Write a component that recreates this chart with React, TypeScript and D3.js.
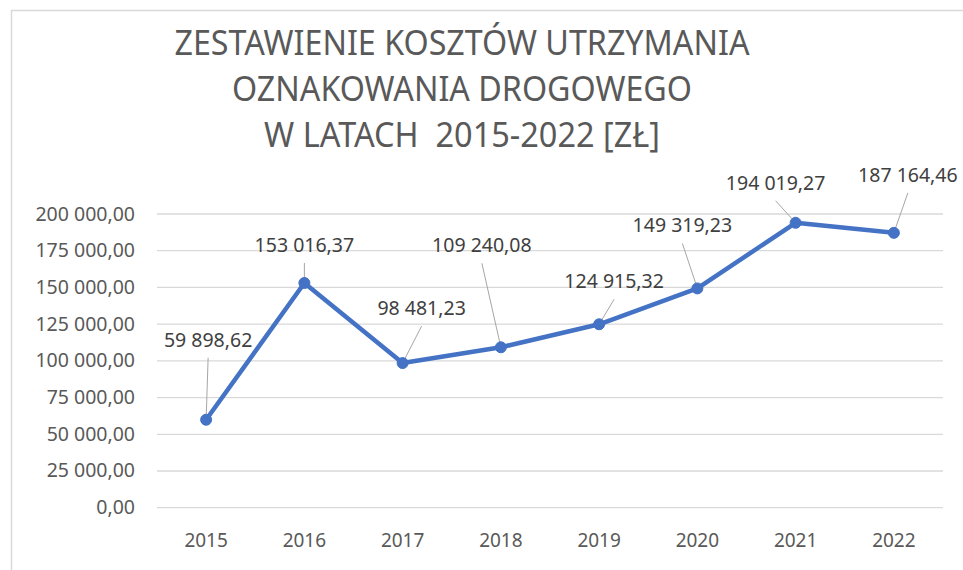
import React from "react";
import * as d3 from "d3";

const years = ["2015", "2016", "2017", "2018", "2019", "2020", "2021", "2022"];
const costs = [59898.62, 153016.37, 98481.23, 109240.08, 124915.32, 149319.23, 194019.27, 187164.46];
const yTicks = [0, 25000, 50000, 75000, 100000, 125000, 150000, 175000, 200000];
const titleLines = ["ZESTAWIENIE KOSZTÓW UTRZYMANIA", "OZNAKOWANIA DROGOWEGO", "W LATACH  2015-2022 [ZŁ]"];

// manual data-label placement (offset of label centre/baseline from the point)
const labelDx = [2, 0, 19, -19, 15, -15, -20, 14];
const labelDy = [-73, -31, -48, -95, -36, -56, -33, -51];

const fmt = (v: number) => {
  const s = v.toFixed(2);
  const [int, dec] = s.split(".");
  const grouped = int.replace(/\B(?=(\d{3})+(?!\d))/g, " ");
  return grouped + "," + dec;
};

export default function App() {
  const W = 963, H = 570;
  const left = 157, right = 943, top = 214, bottom = 507.7;
  const x = d3.scaleBand<string>().domain(years).range([left, right]);
  const y = d3.scaleLinear().domain([0, 200000]).range([bottom, top]);
  const font = "'Noto Sans', sans-serif";
  const line = d3.line<number>()
    .x((_, i) => (x(years[i]) as number) + x.bandwidth() / 2)
    .y((d) => y(d));
  const titleWidths = [575, 460, 396];
  return (
    <svg width={W} height={H} style={{ position: "absolute", left: 0, top: 0, background: "#fff" }}>
      <rect x={0} y={0} width={W} height={H} fill="#fff" />
      <line x1={11} y1={10.5} x2={W} y2={10.5} stroke="#d9d9d9" strokeWidth={1.5} />
      <line x1={11.5} y1={10} x2={11.5} y2={H} stroke="#d9d9d9" strokeWidth={1.5} />
      {titleLines.map((t, i) => (
        <text key={t} x={462} y={55 + i * 46} textAnchor="middle" fontFamily={font} fontWeight={400}
          fontSize={34} fill="#595959" textLength={titleWidths[i]} lengthAdjust="spacingAndGlyphs"
          style={{ whiteSpace: "pre" }}>{t}</text>
      ))}
      {yTicks.map((t) => (
        <g key={t}>
          <line x1={left} x2={right} y1={y(t)} y2={y(t)} stroke="#d9d9d9" strokeWidth={1.3} />
          <text x={135} y={y(t) + 6.5} textAnchor="end" fontFamily={font} fontSize={19.5} fill="#595959">{fmt(t)}</text>
        </g>
      ))}
      {years.map((yr) => (
        <text key={yr} x={(x(yr) as number) + x.bandwidth() / 2} y={547} textAnchor="middle"
          fontFamily={font} fontSize={19} fill="#595959">{yr}</text>
      ))}
      {costs.map((v, i) => {
        const px = (x(years[i]) as number) + x.bandwidth() / 2;
        const py = y(v);
        const lx = px + labelDx[i];
        const ly = py + labelDy[i];
        const sx = lx, sy = ly + 11;
        const ang = Math.atan2(py - sy, px - sx);
        return (
          <g key={i}>
            <line x1={sx} y1={sy} x2={px - Math.cos(ang) * 3} y2={py - Math.sin(ang) * 3} stroke="#a6a6a6" strokeWidth={1} />
            <text x={lx} y={ly} textAnchor="middle" fontFamily={font} fontSize={19.5} fill="#404040">{fmt(v)}</text>
          </g>
        );
      })}
      <path d={line(costs) || ""} fill="none" stroke="#4472c4" strokeWidth={4.5} strokeLinejoin="round" strokeLinecap="round" />
      {costs.map((v, i) => (
        <circle key={i} cx={(x(years[i]) as number) + x.bandwidth() / 2} cy={y(v)} r={5.5} fill="#4472c4" stroke="#4472c4" />
      ))}
    </svg>
  );
}
